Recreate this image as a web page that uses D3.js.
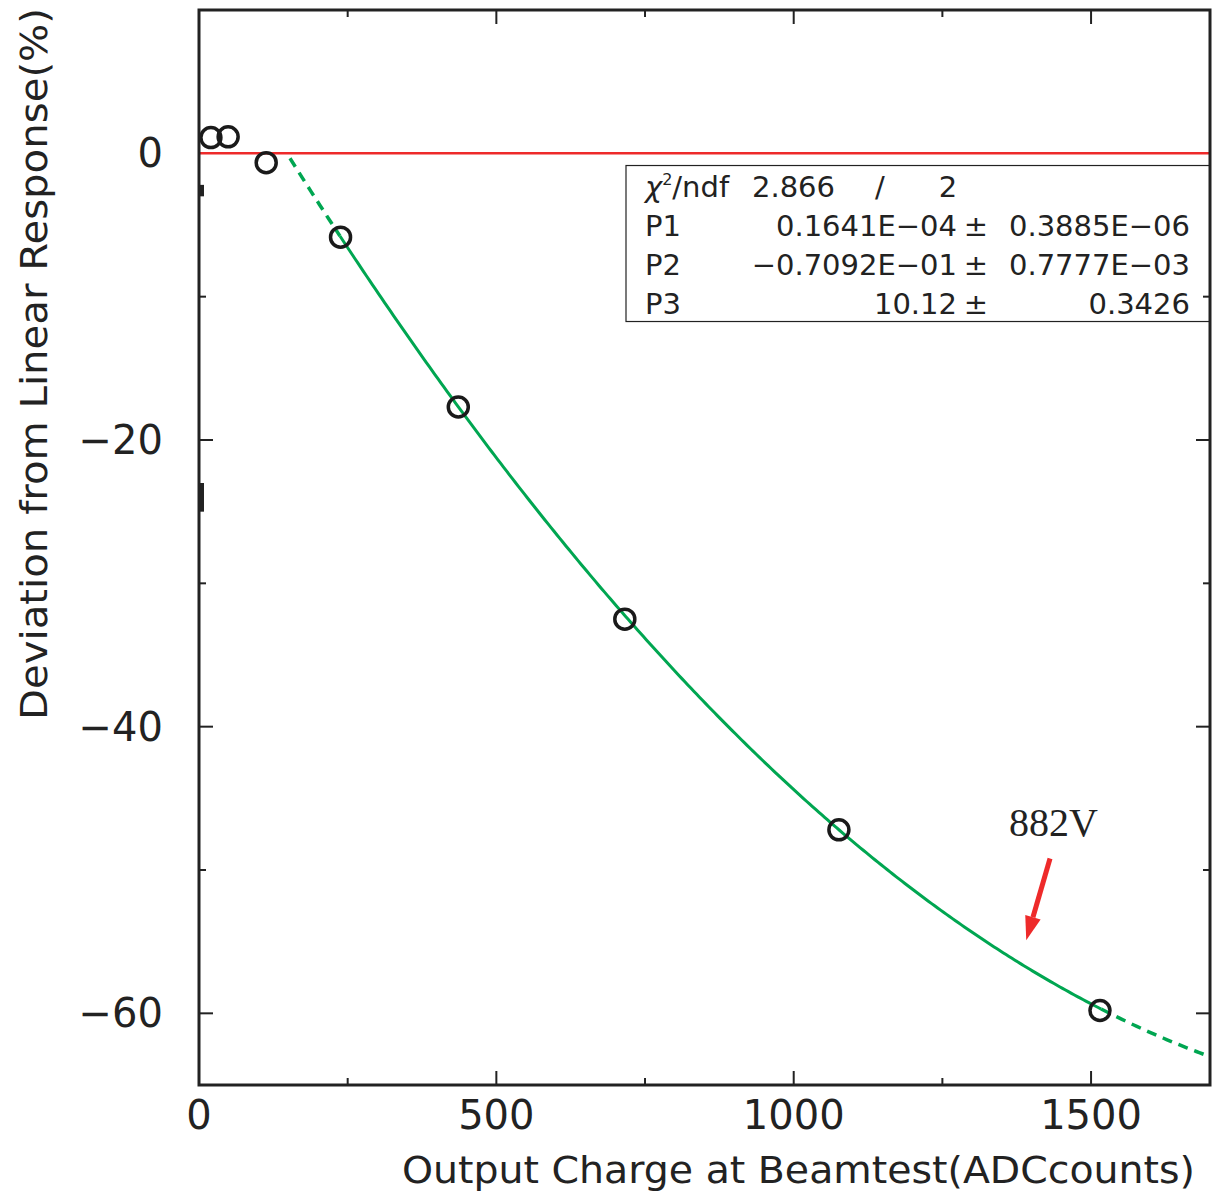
<!DOCTYPE html>
<html>
<head>
<meta charset="utf-8">
<script src="https://cdn.jsdelivr.net/npm/d3@7"></script>
<style>
  body { margin: 0; background: #fff; }
  svg { display: block; }
  text { font-family: "DejaVu Sans", sans-serif; fill: #222; }
</style>
</head>
<body>
<div id="chart"></div>
<script>
// measured points (ADC counts, % deviation)
const chargeX = [20, 49, 113, 238, 436, 716, 1076, 1515]
const deviationY = [1.1, 1.15, -0.65, -5.85, -17.7, -32.5, -47.2, -59.8]

// fit parameters shown in the stats box
const fitNames = ['P1', 'P2', 'P3']
const fitValues = [0.1641e-4, -0.7092e-1, 10.12]
const fitValueLabels = ['0.1641E\u221204', '\u22120.7092E\u221201', '10.12']
const fitErrorLabels = ['0.3885E\u221206', '0.7777E\u221203', '0.3426']
const chi2Label = '2.866', ndfLabel = '2'
const fitRange = [153, 1700]
const solidRange = [237, 1517]

// ticks
const xMajor = [0, 500, 1000, 1500]
const xMinor = [250, 750, 1250]
const yMajor = [0, -20, -40, -60]
const yMinor = [-10, -30, -50]
const yStubs = [[-2.2, -3.0], [-23.0, -25.0]]

const W = 1217, H = 1199
const margin = { top: 10, right: 7, bottom: 114, left: 199 }
const iw = W - margin.left - margin.right
const ih = H - margin.top - margin.bottom

const x = d3.scaleLinear().domain([0, 1700]).range([0, iw])
const y = d3.scaleLinear().domain([-65, 10]).range([ih, 0])

const svg = d3.select('#chart').append('svg')
  .attr('width', W).attr('height', H)
const g = svg.append('g')
  .attr('transform', `translate(${margin.left},${margin.top})`)

const fit = v => fitValues[0] * v * v + fitValues[1] * v + fitValues[2]
const line = d3.line().x(d => x(d)).y(d => y(fit(d)))
const sample = (a, b) => d3.range(a, b, 5).concat([b])

// zero reference
g.append('line')
  .attr('x1', 0).attr('x2', iw)
  .attr('y1', y(0)).attr('y2', y(0))
  .attr('stroke', '#ee2a2a').attr('stroke-width', 2.5)

// fit curve: dashed outside the fitted range, solid inside
g.append('path').attr('d', line(sample(fitRange[0], solidRange[0])))
  .attr('fill', 'none').attr('stroke', '#00a651').attr('stroke-width', 3.5)
  .attr('stroke-dasharray', '10,7')
g.append('path').attr('d', line(sample(solidRange[1], fitRange[1])))
  .attr('fill', 'none').attr('stroke', '#00a651').attr('stroke-width', 3.5)
  .attr('stroke-dasharray', '10,7')
g.append('path').attr('d', line(sample(solidRange[0], solidRange[1])))
  .attr('fill', 'none').attr('stroke', '#00a651').attr('stroke-width', 3)

// data points
g.selectAll('circle.pt').data(chargeX).enter().append('circle')
  .attr('class', 'pt')
  .attr('cx', d => x(d))
  .attr('cy', (d, i) => y(deviationY[i]))
  .attr('r', 10)
  .attr('fill', 'none').attr('stroke', '#1a1a1a').attr('stroke-width', 3.5)

// stats box
const box = g.append('g')
const bx = x(718), by = y(-0.85)
box.append('rect')
  .attr('x', bx).attr('y', by)
  .attr('width', iw - bx).attr('height', 156)
  .attr('fill', '#fff').attr('stroke', '#222').attr('stroke-width', 1.2)
const fs = 29, rowH = 39
const labelX = bx + 19, valX = bx + 331, pmX = bx + 350, errX = bx + 564
const r0 = box.append('text').attr('x', labelX).attr('y', by + 31).attr('font-size', fs)
r0.append('tspan').style('font-style', 'italic').text('\u03c7')
r0.append('tspan').attr('font-size', 16).attr('dy', -12).text('2')
r0.append('tspan').attr('dy', 12).text('/ndf')
box.append('text').attr('x', bx + 126).attr('y', by + 31).attr('font-size', fs).text(chi2Label)
box.append('text').attr('x', bx + 254).attr('y', by + 31).attr('font-size', fs)
  .attr('text-anchor', 'middle').text('/')
box.append('text').attr('x', bx + 322).attr('y', by + 31).attr('font-size', fs)
  .attr('text-anchor', 'middle').text(ndfLabel)
fitNames.forEach((n, i) => {
  const ty = by + 31 + rowH * (i + 1)
  box.append('text').attr('x', labelX).attr('y', ty).attr('font-size', fs).text(n)
  box.append('text').attr('x', valX).attr('y', ty).attr('font-size', fs)
    .attr('text-anchor', 'end').text(fitValueLabels[i])
  box.append('text').attr('x', pmX).attr('y', ty).attr('font-size', fs)
    .attr('text-anchor', 'middle').text('\u00b1')
  box.append('text').attr('x', errX).attr('y', ty).attr('font-size', fs)
    .attr('text-anchor', 'end').text(fitErrorLabels[i])
})

// annotation arrow
const a0 = [1431, -49.2], a1 = [1391, -54.9]
const ax0 = x(a0[0]), ay0 = y(a0[1]), ax1 = x(a1[0]), ay1 = y(a1[1])
const ang = Math.atan2(ay1 - ay0, ax1 - ax0)
const hl = 24, hw = 8
const bxh = ax1 - hl * Math.cos(ang), byh = ay1 - hl * Math.sin(ang)
g.append('line').attr('x1', ax0).attr('y1', ay0).attr('x2', bxh).attr('y2', byh)
  .attr('stroke', '#ee2a2a').attr('stroke-width', 5)
g.append('path')
  .attr('d', `M${ax1},${ay1}L${bxh + hw * Math.sin(ang)},${byh - hw * Math.cos(ang)}` +
    `L${bxh - hw * Math.sin(ang)},${byh + hw * Math.cos(ang)}Z`)
  .attr('fill', '#ee2a2a')
g.append('text').attr('x', x(1362)).attr('y', y(-47.6))
  .attr('font-size', 40).style('font-family', '"Liberation Serif", serif')
  .text('882V')

// frame and ticks (ticks point inwards on all four sides)
g.append('rect').attr('width', iw).attr('height', ih)
  .attr('fill', 'none').attr('stroke', '#222').attr('stroke-width', 3)

const tick = (vals, len, horiz) => {
  vals.forEach(v => {
    if (horiz) {
      g.append('line').attr('x1', x(v)).attr('x2', x(v)).attr('y1', ih).attr('y2', ih - len)
        .attr('stroke', '#222').attr('stroke-width', 2)
      g.append('line').attr('x1', x(v)).attr('x2', x(v)).attr('y1', 0).attr('y2', len)
        .attr('stroke', '#222').attr('stroke-width', 2)
    } else {
      g.append('line').attr('y1', y(v)).attr('y2', y(v)).attr('x1', 0).attr('x2', len)
        .attr('stroke', '#222').attr('stroke-width', 2)
      g.append('line').attr('y1', y(v)).attr('y2', y(v)).attr('x1', iw).attr('x2', iw - len)
        .attr('stroke', '#222').attr('stroke-width', 2)
    }
  })
}
tick(xMajor.filter(v => v > 0), 14, true)
tick(xMinor, 7, true)
tick(yMajor.filter(v => v !== 0), 14, false)
tick(yMinor, 7, false)

yStubs.forEach(s => {
  g.append('rect').attr('x', 1).attr('y', y(s[0]))
    .attr('width', 4).attr('height', y(s[1]) - y(s[0])).attr('fill', '#222')
})

// tick labels
g.selectAll('text.xl').data(xMajor).enter().append('text')
  .attr('x', d => x(d)).attr('y', ih + 44)
  .attr('text-anchor', 'middle').attr('font-size', 40)
  .text(d => d)
g.selectAll('text.yl').data(yMajor).enter().append('text')
  .attr('x', -36).attr('y', d => y(d) + 14)
  .attr('text-anchor', 'end').attr('font-size', 40)
  .text(d => d < 0 ? '\u2212' + Math.abs(d) : d)

// axis titles
svg.append('text').attr('x', 1195).attr('y', 1183)
  .attr('text-anchor', 'end').attr('font-size', 38)
  .attr('textLength', 793).attr('lengthAdjust', 'spacingAndGlyphs')
  .text('Output Charge at Beamtest(ADCcounts)')
svg.append('text')
  .attr('transform', 'translate(47,720) rotate(-90)')
  .attr('font-size', 38)
  .attr('textLength', 712).attr('lengthAdjust', 'spacingAndGlyphs')
  .text('Deviation from Linear Response(%)')
</script>
</body>
</html>
